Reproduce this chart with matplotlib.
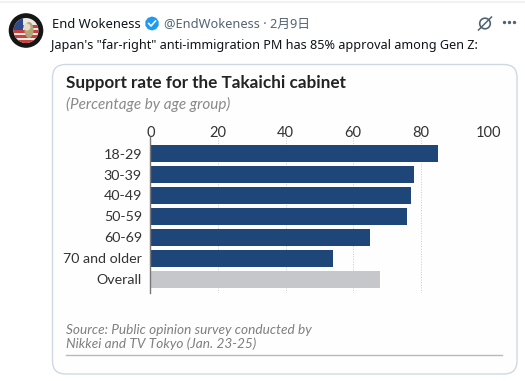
import numpy as np
import matplotlib
matplotlib.use('Agg')
import matplotlib.pyplot as plt
from matplotlib.patches import Circle, FancyBboxPatch, Rectangle, RegularPolygon, Ellipse

groups = ['18-29', '30-39', '40-49', '50-59', '60-69', '70 and older', 'Overall']
support = [85, 78, 77, 76, 65, 54, 68]
ticks = [0, 20, 40, 60, 80, 100]

W, H = 525, 381
NAVY = '#1f4679'
GREY = '#c6c7ca'

plt.rcParams['font.family'] = ['Noto Sans', 'Noto Sans CJK JP', 'DejaVu Sans']
fig = plt.figure(figsize=(W / 100, H / 100), dpi=100, facecolor='white')

# page in pixel coords
bg = fig.add_axes([0, 0, 1, 1])
bg.set_xlim(0, W)
bg.set_ylim(H, 0)
bg.axis('off')
bg.plot([0, W], [1.5, 1.5], color='#eff1f3', lw=1.5)

# card
bg.add_patch(FancyBboxPatch((52.5, 64.5), 464.5, 309.5, boxstyle='round,pad=0,rounding_size=13',
                            fc='#fefefe', ec='#cfd9e2', lw=1))

# avatar
bg.add_patch(Circle((26, 30.5), 17.3, fc='#161616', ec='none'))
inner = Circle((26, 30.5), 12.5, fc='#ece9e4', ec='none')
bg.add_patch(inner)
for y in [25, 30, 35, 40]:
    r = bg.add_patch(Rectangle((12, y), 28, 2.5, fc='#c9403c', ec='none'))
    r.set_clip_path(inner)
r = bg.add_patch(Rectangle((12, 18), 11, 12, fc='#2f4a8c', ec='none'))
r.set_clip_path(inner)
bg.add_patch(Ellipse((29, 30), 9, 16, fc='#b2a47a', ec='none'))
bg.add_patch(Ellipse((27, 27), 7, 7, fc='#e4dcc4', ec='none'))

# tweet header
bg.text(52, 24, 'End Wokeness', fontsize=9.3, fontweight='bold', color='#0f1419', va='center')
bg.add_patch(RegularPolygon((152, 23.5), 10, radius=7, fc='#1d9bf0', ec='none'))
bg.plot([148.7, 151, 155.5], [23.5, 26, 21], color='white', lw=1.2)
bg.text(164.5, 24, '@EndWokeness · 2月9日', fontsize=9.2, color='#536471', va='center')
bg.text(51, 45, 'Japan\'s "far-right" anti-immigration PM has 85% approval among Gen Z:',
        fontsize=9.1, color='#0f1419', va='center')

# grok + dots
bg.add_patch(Circle((485, 23.5), 5.3, fc='none', ec='#536471', lw=1.2))
bg.plot([478.5, 491.5], [30, 17], color='#536471', lw=1.1)
bg.scatter([503.5, 508.5, 513.5], [22, 22, 22], s=2, color='#536471')

# chart titles
bg.text(66, 83, 'Support rate for the Takaichi cabinet', family='Lato', fontsize=12.3,
        fontweight='bold', color='#232325', va='center')
bg.text(66, 104, '(Percentage by age group)', family='Lato', fontsize=11, style='italic',
        color='#8a8a8c', va='center')

# source
bg.text(66, 330, 'Source: Public opinion survey conducted by', family='Lato', fontsize=9.8,
        style='italic', color='#7f7f81', va='center')
bg.text(66, 344, 'Nikkei and TV Tokyo (Jan. 23-25)', family='Lato', fontsize=9.8,
        style='italic', color='#7f7f81', va='center')
bg.plot([66, 502], [355, 355], color='#b9b9bb', lw=1)

# bars
x0, x1 = 150.3, 488.3
top, bottom = 137, 293
ax = fig.add_axes([x0 / W, 1 - bottom / H, (x1 - x0) / W, (bottom - top) / H])
ax.patch.set_alpha(0)
ax.set_xlim(0, 100)
# row 0 centre sits at y=153.7, rows 20.9 px apart
ax.set_ylim((bottom - 153.7) / 20.9, (top - 153.7) / 20.9)
colors = [NAVY] * 6 + [GREY]
ax.barh(range(len(groups)), support, height=0.82, color=colors, zorder=3)
ax.set_yticks(range(len(groups)))
ax.set_yticklabels(groups, family='Lato', fontsize=10.3, color='#333335')
ax.set_xticks(ticks)
ax.set_xticklabels(ticks, family='Lato', fontsize=10.5, color='#333335')
ax.xaxis.tick_top()
ax.tick_params(axis='both', length=0)
ax.tick_params(axis='x', pad=-2)
ax.tick_params(axis='y', pad=6)
ax.grid(axis='x', color='#c9c9cb', ls=':', lw=0.7, zorder=0)
for s in ['top', 'right', 'bottom']:
    ax.spines[s].set_visible(False)
ax.spines['left'].set_color('#77777a')
ax.spines['left'].set_linewidth(1)
ax.spines['left'].set_zorder(4)

fig.savefig('out.png', dpi=100)
